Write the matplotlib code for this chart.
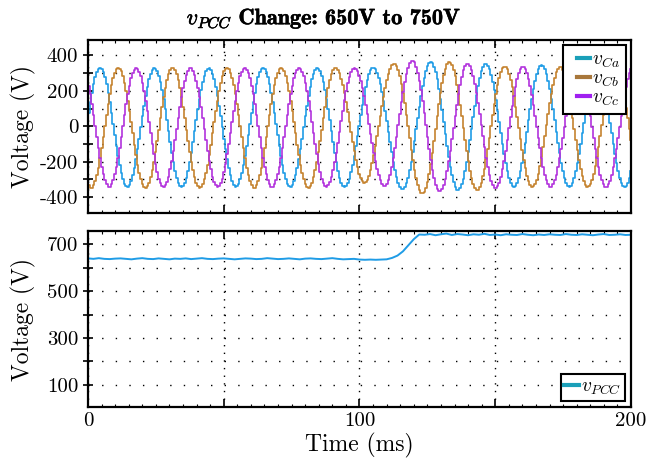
import numpy as np
import matplotlib
matplotlib.use('Agg')
import matplotlib.pyplot as plt
import matplotlib.patheffects as pe
from matplotlib.lines import Line2D
from matplotlib.legend_handler import HandlerLine2D

plt.rcParams['font.family'] = 'serif'
plt.rcParams['font.serif'] = ['cmr10']
plt.rcParams['mathtext.fontset'] = 'cm'
plt.rcParams['axes.unicode_minus'] = False

# half-cycle extremes (time ms, voltage V)
va_t = [-5.8, 4.2, 14.2, 24.2, 34.2, 44.2, 54.2, 64.2, 74.2, 84.2, 94.2, 104.8, 115.6, 126.0, 136.0, 146.2, 156.6, 166.8, 177.0, 187.2, 197.4, 207.6]
va_v = [-342, 328, -342, 328, -342, 328, -342, 328, -342, 328, -342, 330, -355, 362, -361, 353, -342, 344, -342, 322, -342, 330]
vb_t = [-9.1, 0.9, 10.9, 20.9, 30.9, 40.9, 50.9, 60.9, 70.9, 80.9, 90.9, 101.5, 112.5, 122.9, 132.8, 143.0, 153.2, 163.4, 173.6, 183.8, 194.0, 204.2]
vb_v = [330, -348, 330, -348, 330, -348, 330, -348, 330, -348, 330, -318, 355, -379, 362, -361, 338, -342, 335, -342, 330, -342]
vc_t = [-2.5, 7.5, 17.5, 27.5, 37.5, 47.5, 57.5, 67.5, 77.5, 87.5, 97.8, 109.0, 119.2, 129.3, 139.5, 149.8, 159.9, 170.1, 180.3, 190.5, 200.7, 210.9]
vc_v = [328, -342, 328, -342, 328, -342, 328, -342, 328, -342, 328, -338, 372, -370, 353, -351, 338, -342, 335, -342, 334, -342]

# v_PCC, one value every 2 ms from 0 to 200 ms
vpcc_t = np.arange(0, 201, 2)
vpcc = [640, 638, 641, 638, 637, 639, 640, 638, 636, 639, 641, 638, 637, 640, 638, 636, 639, 638, 640, 637,
        639, 641, 638, 637, 639, 640, 638, 636, 638, 640, 639, 637, 638, 641, 639, 637, 638, 640, 638, 636,
        639, 640, 638, 637, 639, 641, 638, 636, 637, 638, 635, 634, 635, 634, 635,
        636, 642, 652, 670, 696, 722, 742, 741, 744, 739, 743, 746, 740, 744, 742, 739, 743, 741, 745, 740,
        742, 739, 743, 741, 740, 744, 741, 739, 742, 740, 743, 741, 740, 744, 741, 740, 743, 741, 739, 742,
        744, 740, 741, 743, 740, 741]

x_ticks = [0, 50, 100, 150, 200]
x_labels = ['0', '', '100', '', '200']

ts = np.arange(0, 200.01, 0.6)


def wave(tt, vv):
    tt = np.array(tt)
    vv = np.array(vv, dtype=float)
    out = np.zeros_like(ts)
    for i, t in enumerate(ts):
        k = np.searchsorted(tt, t) - 1
        s = (t - tt[k]) / (tt[k + 1] - tt[k])
        out[i] = vv[k] + (vv[k + 1] - vv[k]) * (1 - np.cos(np.pi * s)) / 2
    return out


class ShortLine(HandlerLine2D):
    # legend line drawn only on the right part of the handle box
    def create_artists(self, legend, orig_handle, xdescent, ydescent, width, height, fontsize, trans):
        y = (height - ydescent) / 2
        ln = Line2D([-xdescent + 0.35 * width, -xdescent + width], [y, y],
                    color=orig_handle.get_color(), lw=orig_handle.get_linewidth())
        ln.set_transform(trans)
        return [ln]


c_a = '#1f9ce6'
c_b = '#c5832f'
c_c = '#b232dd'

fig = plt.figure(figsize=(6.61, 4.61), dpi=100)
ax1 = fig.add_axes([0.1331, 0.538, 0.8215, 0.3752])
ax2 = fig.add_axes([0.1331, 0.1171, 0.8215, 0.3818])

ax1.plot(ts, wave(va_t, va_v), color=c_a, lw=1.2, drawstyle='steps-post')
ax1.plot(ts, wave(vb_t, vb_v), color=c_b, lw=1.2, drawstyle='steps-post')
ax1.plot(ts, wave(vc_t, vc_v), color=c_c, lw=1.2, drawstyle='steps-post')
ax2.plot(vpcc_t, vpcc, color=c_a, lw=1.4)

for ax in (ax1, ax2):
    ax.set_xlim(0, 200)
    ax.set_xticks(x_ticks)
    ax.set_xticklabels(x_labels)
    ax.set_xticks(np.arange(0, 201, 5), minor=True)
    ax.tick_params(axis='x', which='major', direction='in', length=6, width=1.2, top=True, labelsize=15)
    ax.tick_params(axis='x', which='minor', direction='in', length=2.5, width=0.8, top=True)
    ax.tick_params(axis='y', which='both', direction='inout', length=7, width=1.2, labelsize=15)
    for sp in ax.spines.values():
        sp.set_linewidth(1.6)
    ax.grid(True, which='major', axis='x', color='black', linestyle=(0, (1, 4.5)), linewidth=1.0)
    ax.grid(True, which='both', axis='y', color='black', linestyle=(0, (1, 8.8)), linewidth=1.0)
    ax.set_ylabel('Voltage (V)', fontsize=17)
    ax.yaxis.set_label_coords(-0.095, 0.5)

ax1.set_ylim(-490, 487)
ax1.set_yticks([-400, -200, 0, 200, 400])
ax1.set_yticks([-300, -100, 100, 300], minor=True)
ax1.set_xticklabels([])

ax2.set_ylim(5, 757)
ax2.set_yticks([100, 300, 500, 700])
ax2.set_yticks([200, 400, 600], minor=True)
ax2.set_xlabel('Time (ms)', fontsize=17, labelpad=2)

ttl = fig.text(324 / 661, 1 - 19 / 461, r'$v_{PCC}$ Change: 650V to 750V', fontsize=16,
               fontfamily='cmb10', ha='center', va='center')
ttl.set_path_effects([pe.withStroke(linewidth=0.4, foreground='black')])

h1 = [Line2D([], [], color='#1a9fb8', lw=3),
      Line2D([], [], color='#a8773b', lw=3),
      Line2D([], [], color='#a020f0', lw=3)]
leg1 = ax1.legend(h1, [r'$v_{Ca}$', r'$v_{Cb}$', r'$v_{Cc}$'], loc='upper right', fontsize=14,
                  fancybox=False, edgecolor='black', framealpha=1, handlelength=1.1,
                  handletextpad=0.1, borderpad=0.3, labelspacing=0.0, borderaxespad=0.25,
                  handler_map={Line2D: ShortLine()})
leg1.get_frame().set_linewidth(1.5)
leg2 = ax2.legend([Line2D([], [], color='#1a9fb8', lw=3)], [r'$v_{PCC}$'], loc='lower right',
                  fontsize=14, fancybox=False, edgecolor='black', framealpha=1, handlelength=0.75,
                  handletextpad=0.1, borderpad=0.2, borderaxespad=0.3)
leg2.get_frame().set_linewidth(1.5)

fig.savefig('out.png', dpi=100)
